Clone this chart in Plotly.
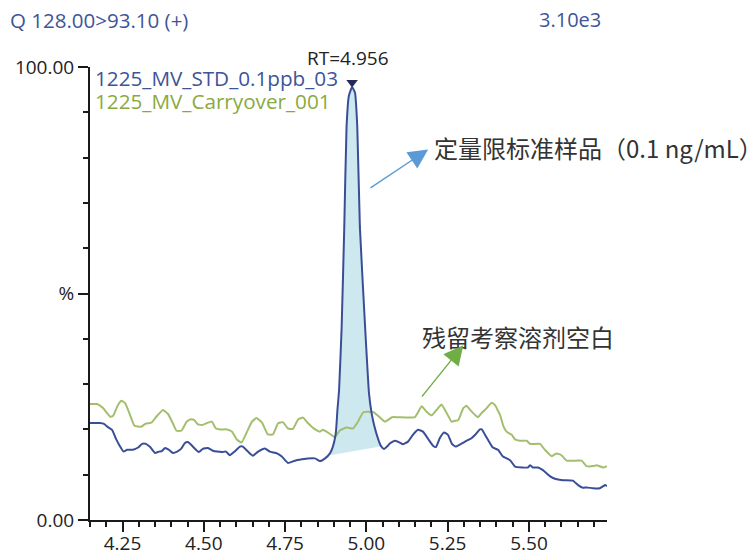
import numpy as np
import plotly.graph_objects as go

# Retention time (min) and relative response (%) of the LOQ standard injection
std_time = [4.150, 4.181, 4.193, 4.205, 4.218, 4.230, 4.242, 4.253, 4.264, 4.282,
            4.298, 4.310, 4.322, 4.335, 4.350, 4.362, 4.371, 4.381, 4.393, 4.405,
            4.418, 4.430, 4.442, 4.451, 4.461, 4.476, 4.485, 4.497, 4.513, 4.528,
            4.541, 4.556, 4.568, 4.580, 4.596, 4.611, 4.620, 4.636, 4.651, 4.667,
            4.688, 4.703, 4.725, 4.740, 4.759, 4.780, 4.802, 4.820, 4.842, 4.857,
            4.873, 4.888, 4.897, 4.906, 4.911, 4.916, 4.924, 4.932, 4.939, 4.946,
            4.956, 4.965, 4.972, 4.980, 4.996, 5.008, 5.016, 5.026, 5.037, 5.045,
            5.054, 5.066, 5.072, 5.088, 5.103, 5.112, 5.128, 5.143, 5.159, 5.174,
            5.189, 5.205, 5.214, 5.226, 5.239, 5.251, 5.263, 5.275, 5.291, 5.306,
            5.322, 5.337, 5.349, 5.355, 5.365, 5.374, 5.389, 5.405, 5.420, 5.442,
            5.457, 5.479, 5.497, 5.503, 5.512, 5.528, 5.543, 5.564, 5.580, 5.604,
            5.635, 5.651, 5.666, 5.678, 5.697, 5.718, 5.734, 5.740]
std_pct = [21.4, 21.4, 21.2, 20.5, 19.9, 17.9, 16.3, 15.1, 15.5, 15.5,
           16.0, 16.8, 16.8, 16.1, 14.8, 15.1, 15.2, 15.9, 15.5, 14.8,
           15.1, 15.7, 17.0, 17.2, 16.6, 15.5, 15.0, 15.7, 15.9, 15.3,
           15.1, 15.0, 15.1, 14.3, 15.2, 16.2, 16.2, 15.1, 14.2, 15.1,
           15.8, 15.1, 14.7, 14.0, 12.6, 13.1, 13.4, 13.6, 13.6, 13.0,
           13.6, 14.7, 16.2, 19.2, 24.3, 28.7, 42.7, 64.7, 86.8, 93.6,
           95.6, 94.3, 86.8, 64.7, 42.7, 28.0, 23.6, 20.3, 17.7, 16.3,
           15.7, 16.4, 16.9, 17.5, 17.1, 16.7, 17.3, 18.8, 19.9, 19.5,
           18.0, 16.4, 16.1, 18.1, 19.3, 18.8, 16.8, 16.2, 16.8, 17.4,
           18.0, 19.0, 20.0, 20.0, 18.8, 17.7, 16.0, 15.5, 14.0, 13.2,
           11.8, 11.6, 11.6, 12.1, 11.6, 11.6, 11.0, 9.7, 9.1, 8.8,
           8.7, 7.7, 7.1, 7.2, 7.0, 7.0, 7.7, 7.5]

# Solvent blank injected after the standard (carry-over check)
blank_time = [4.150, 4.172, 4.190, 4.212, 4.221, 4.236, 4.247, 4.258, 4.271, 4.287,
              4.307, 4.322, 4.339, 4.354, 4.374, 4.390, 4.405, 4.416, 4.431, 4.447,
              4.458, 4.470, 4.482, 4.497, 4.513, 4.525, 4.537, 4.550, 4.571, 4.587,
              4.602, 4.616, 4.633, 4.648, 4.662, 4.679, 4.697, 4.713, 4.728, 4.743,
              4.759, 4.774, 4.790, 4.805, 4.820, 4.842, 4.857, 4.866, 4.882, 4.903,
              4.919, 4.939, 4.959, 4.974, 4.991, 5.022, 5.036, 5.057, 5.079, 5.097,
              5.149, 5.170, 5.185, 5.201, 5.216, 5.231, 5.247, 5.262, 5.272, 5.283,
              5.298, 5.308, 5.319, 5.334, 5.344, 5.354, 5.370, 5.385, 5.395, 5.411,
              5.421, 5.431, 5.447, 5.457, 5.472, 5.493, 5.503, 5.534, 5.549, 5.570,
              5.585, 5.600, 5.616, 5.662, 5.677, 5.698, 5.708, 5.728, 5.740]
blank_pct = [25.6, 25.6, 24.7, 22.8, 23.0, 25.4, 26.3, 25.8, 23.6, 20.8,
             20.6, 21.3, 21.5, 22.8, 24.3, 23.4, 21.3, 19.7, 19.7, 21.7,
             22.2, 22.1, 21.1, 21.0, 21.5, 21.7, 20.2, 20.0, 20.0, 19.5,
             17.7, 17.1, 19.5, 21.7, 22.5, 21.5, 18.9, 18.9, 21.3, 21.6,
             20.2, 20.1, 22.2, 22.6, 21.4, 20.0, 19.5, 19.9, 19.3, 18.3,
             19.8, 20.4, 20.2, 21.7, 23.8, 23.8, 23.0, 21.7, 22.7, 22.7,
             22.7, 25.1, 23.9, 23.1, 24.3, 25.5, 23.6, 21.7, 21.9, 22.1,
             24.7, 25.2, 24.3, 23.2, 22.7, 23.6, 24.7, 25.9, 25.4, 23.2,
             20.8, 19.5, 18.8, 17.8, 17.5, 17.5, 16.8, 16.8, 15.5, 14.1,
             14.7, 14.3, 13.1, 13.1, 11.9, 11.9, 12.1, 11.6, 11.9]

# Peak apex and integration baseline (start/end time and level)
rt_apex = 4.956
int_start = (4.889, 14.3)
int_end = (5.043, 16.2)

y_tick_vals = [0, 50, 100]
y_tick_text = ["0.00", "%", "100.00"]
x_tick_vals = [4.25, 4.50, 4.75, 5.00, 5.25, 5.50]
x_tick_text = ["4.25", "4.50", "4.75", "5.00", "5.25", "5.50"]

BLUE = "#3a4e98"
GREEN = "#a3bf6e"
GREEN_TXT = "#8aaa3e"
HEAD_BLUE = "#3d5499"
LATIN = "Open Sans"
CJK = "Noto Sans CJK SC"

# Integrated peak area: trace between the integration limits closed by the baseline
t = np.array(std_time)
p = np.array(std_pct)
inside = (t > int_start[0]) & (t < int_end[0])
p_start = np.interp(int_start[0], t, p)
p_end = np.interp(int_end[0], t, p)
area_x = [int_start[0]] + list(t[inside]) + [int_end[0], int_end[0], int_start[0]]
area_y = [p_start] + list(p[inside]) + [p_end, int_end[1], int_start[1]]

apex_pct = float(np.interp(rt_apex, t, p))

fig = go.Figure()
fig.add_trace(go.Scatter(x=area_x, y=area_y, fill="toself", mode="none",
                         fillcolor="rgba(173,216,230,0.6)", hoverinfo="skip"))
fig.add_trace(go.Scatter(x=blank_time, y=blank_pct, mode="lines",
                         line=dict(color=GREEN, width=2, shape="spline", smoothing=0.4)))
fig.add_trace(go.Scatter(x=std_time, y=std_pct, mode="lines",
                         line=dict(color=BLUE, width=2, shape="spline", smoothing=0.4)))
fig.add_trace(go.Scatter(x=[rt_apex], y=[apex_pct + 1.0], mode="markers",
                         marker=dict(symbol="triangle-down", size=10, color="#262b5c"),
                         cliponaxis=False))

annotations = [
    dict(text="Q 128.00>93.10 (+)", xref="paper", yref="paper", x=-0.159, y=1.104,
         xanchor="left", yanchor="middle", showarrow=False,
         font=dict(family=LATIN, size=20.5, color=HEAD_BLUE)),
    dict(text="3.10e3", xref="paper", yref="paper", x=0.993, y=1.104,
         xanchor="right", yanchor="middle", showarrow=False,
         font=dict(family=LATIN, size=20, color=HEAD_BLUE)),
    dict(text="1225_MV_STD_0.1ppb_03", xref="paper", yref="paper", x=0.006, y=0.975,
         xanchor="left", yanchor="middle", showarrow=False,
         font=dict(family=LATIN, size=20.7, color=HEAD_BLUE)),
    dict(text="1225_MV_Carryover_001", xref="paper", yref="paper", x=0.006, y=0.926,
         xanchor="left", yanchor="middle", showarrow=False,
         font=dict(family=LATIN, size=20.7, color=GREEN_TXT)),
    dict(text=f"RT={rt_apex:.3f}", xref="x", yref="paper", x=rt_apex, y=1.02,
         xshift=-4, xanchor="center", yanchor="middle", showarrow=False,
         font=dict(family=LATIN, size=19, color="#222222")),
    dict(text="定量限标准样品（0.1 ng/mL）", xref="paper", yref="paper", x=0.983, y=0.823,
         xanchor="center", yanchor="middle", showarrow=False,
         font=dict(family=CJK, size=24, color="#333333")),
    dict(text="残留考察溶剂空白", xref="paper", yref="paper", x=0.827, y=0.404,
         xanchor="center", yanchor="middle", showarrow=False,
         font=dict(family=CJK, size=24, color="#333333")),
    # pointer arrows
    dict(text="", x=5.190, y=81.8, ax=5.008, ay=73.1, xref="x", yref="y",
         axref="x", ayref="y", showarrow=True, arrowhead=2, arrowsize=2.8,
         arrowwidth=1.4, arrowcolor="#5b9bd5"),
    dict(text="", x=5.298, y=38.6, ax=5.167, ay=26.9, xref="x", yref="y",
         axref="x", ayref="y", showarrow=True, arrowhead=2, arrowsize=2.8,
         arrowwidth=1.4, arrowcolor="#70ad47"),
]

fig.update_layout(
    width=752, height=553,
    margin=dict(l=90, r=145, t=67, b=33),
    paper_bgcolor="white", plot_bgcolor="white",
    showlegend=False,
    annotations=annotations,
    xaxis=dict(range=[4.15, 5.74], showgrid=False, zeroline=False, automargin=False,
               showline=True, linecolor="#1a1a1a", linewidth=2,
               ticks="outside", ticklen=10, tickwidth=2, tickcolor="#1a1a1a",
               tickvals=x_tick_vals, ticktext=x_tick_text, ticklabelstandoff=-5,
               tickfont=dict(family=LATIN, size=19, color="#222222"),
               minor=dict(ticks="outside", ticklen=5, tickwidth=2, tickcolor="#1a1a1a",
                          tick0=4.15, dtick=0.05)),
    yaxis=dict(range=[0, 100], showgrid=False, zeroline=False, automargin=False,
               showline=True, linecolor="#1a1a1a", linewidth=2,
               ticks="outside", ticklen=10, tickwidth=2, tickcolor="#1a1a1a",
               tickvals=y_tick_vals, ticktext=y_tick_text,
               tickfont=dict(family=LATIN, size=19, color="#222222"),
               minor=dict(ticks="outside", ticklen=5, tickwidth=2, tickcolor="#1a1a1a",
                          tick0=0, dtick=10)),
)

fig.write_html("out.html")
